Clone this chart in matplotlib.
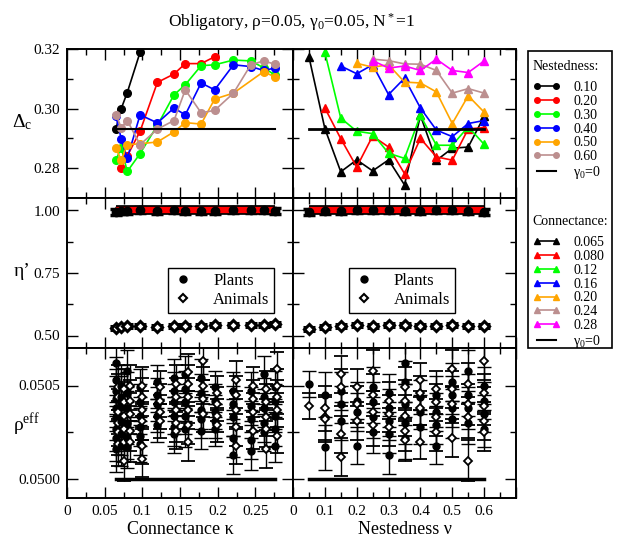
import matplotlib
matplotlib.use("Agg")
import matplotlib.pyplot as plt
from matplotlib.lines import Line2D
from matplotlib.patches import Rectangle
from matplotlib.ticker import MultipleLocator, FormatStrFormatter, FixedLocator, FixedFormatter

plt.rcParams["font.family"] = ["Liberation Serif", "DejaVu Serif"]
plt.rcParams["mathtext.fontset"] = "custom"
plt.rcParams["mathtext.rm"] = "Liberation Serif"
plt.rcParams["mathtext.it"] = "Liberation Serif:italic"

# ---- data ----
conn = [0.065, 0.072, 0.080, 0.097, 0.12, 0.142, 0.157, 0.178, 0.196, 0.221, 0.244, 0.261, 0.276]
nest = [0.05, 0.10, 0.15, 0.20, 0.25, 0.30, 0.35, 0.40, 0.45, 0.50, 0.55, 0.60]

nest_labels = ["0.10", "0.20", "0.30", "0.40", "0.50", "0.60"]
nest_colors = ["black", "#ff0000", "#00ff00", "#0000ff", "#ffa500", "#bc8f8f"]
conn_labels = ["0.065", "0.080", "0.12", "0.16", "0.20", "0.24", "0.28"]
conn_colors = ["black", "#ff0000", "#00ff00", "#0000ff", "#ffa500", "#bc8f8f", "#ff00ff"]

# Delta_c vs connectance, one series per nestedness (x values, y values)
dc_k_x = [
    [0.065, 0.072, 0.080, 0.097],
    [0.072, 0.080, 0.097, 0.12, 0.142, 0.157, 0.178, 0.196],
    conn,
    conn,
    [0.065, 0.072, 0.080, 0.097, 0.12, 0.142, 0.157, 0.178, 0.196, 0.221, 0.261, 0.276],
    conn,
]
dc_k_y = [
    [0.2932, 0.3000, 0.3054, 0.3189],
    [0.2802, 0.2841, 0.2924, 0.3088, 0.3116, 0.3151, 0.3151, 0.3174],
    [0.2828, 0.2869, 0.2789, 0.2849, 0.2944, 0.3046, 0.3080, 0.3144, 0.3147, 0.3163, 0.3160, 0.3137, 0.3113],
    [0.2974, 0.2899, 0.2833, 0.2979, 0.2952, 0.3002, 0.2979, 0.3086, 0.3063, 0.3147, 0.3141, 0.3128, 0.3136],
    [0.2867, 0.2827, 0.2879, 0.2882, 0.2888, 0.2922, 0.2953, 0.2948, 0.3032, 0.3052, 0.3124, 0.3106],
    [0.2980, 0.2936, 0.2960, 0.2879, 0.2931, 0.2960, 0.3063, 0.2986, 0.2994, 0.3052, 0.3147, 0.3160, 0.3149],
]
dc_k_zero = 0.2932

# Delta_c vs nestedness, one series per connectance
dc_n_x = [
    nest,
    nest[1:],
    nest[1:],
    nest[2:],
    nest[3:],
    nest[4:],
    nest[4:],
]
dc_n_y = [
    [0.3174, 0.2933, 0.2788, 0.2828, 0.2791, 0.2828, 0.2744, 0.2977, 0.2826, 0.2867, 0.2871, 0.2974],
    [0.3002, 0.2899, 0.2804, 0.2908, 0.2871, 0.2782, 0.2900, 0.2838, 0.2827, 0.2932, 0.2936],
    [0.3189, 0.2968, 0.2924, 0.2916, 0.2850, 0.2833, 0.2977, 0.2877, 0.2877, 0.2939, 0.2880],
    [0.3143, 0.3117, 0.3147, 0.3047, 0.3102, 0.3002, 0.2928, 0.2906, 0.2950, 0.2960],
    [0.3152, 0.3139, 0.3147, 0.3089, 0.3086, 0.3056, 0.2950, 0.3043, 0.2988],
    [0.3166, 0.3161, 0.3150, 0.3149, 0.3128, 0.3052, 0.3067, 0.3052],
    [0.3161, 0.3136, 0.3143, 0.3128, 0.3166, 0.3128, 0.3121, 0.3160],
]
dc_n_zero = 0.2933

# eta' (fraction of surviving species)
eta_pl_k = [0.995, 0.997, 0.999, 1.000, 0.998, 1.000, 0.999, 0.997, 0.998, 1.000, 1.000, 1.000, 0.999]
eta_an_k = [0.530, 0.535, 0.537, 0.537, 0.535, 0.540, 0.539, 0.540, 0.542, 0.542, 0.543, 0.542, 0.545]
eta_pl_n = [0.995, 0.996, 0.999, 1.003, 1.002, 1.000, 0.998, 0.999, 1.000, 1.000, 0.997, 0.995]
eta_an_n = [0.525, 0.535, 0.540, 0.542, 0.540, 0.543, 0.541, 0.540, 0.540, 0.541, 0.540, 0.539]

# rho_eff, several networks per column
rho_pl_k = [
    [0.05062, 0.05053, 0.05047, 0.05043, 0.05038, 0.05033, 0.05027, 0.05022, 0.05016],
    [0.05050, 0.05044, 0.05039, 0.05031, 0.05024, 0.05018],
    [0.05058, 0.05046, 0.05038, 0.05030, 0.05022, 0.05017],
    [0.05049, 0.05041, 0.05034, 0.05028, 0.05023, 0.05019],
    [0.05052, 0.05045, 0.05040, 0.05034, 0.05029],
    [0.05054, 0.05047, 0.05041, 0.05034, 0.05028, 0.05024],
    [0.05056, 0.05048, 0.05041, 0.05034, 0.05027],
    [0.05054, 0.05046, 0.05037, 0.05032, 0.05026],
    [0.05049, 0.05042, 0.05036, 0.05031, 0.05027],
    [0.05047, 0.05040, 0.05033, 0.05022, 0.05013],
    [0.05047, 0.05039, 0.05032, 0.05021, 0.05015],
    [0.05056, 0.05044, 0.05038, 0.05030, 0.05025],
    [0.05049, 0.05042, 0.05034, 0.05027, 0.05018],
]
rho_an_k = [
    [0.05049, 0.05044, 0.05036, 0.05030, 0.05025, 0.05019],
    [0.05048, 0.05041, 0.05034, 0.05027, 0.05020, 0.05010],
    [0.05050, 0.05042, 0.05035, 0.05026, 0.05020],
    [0.05050, 0.05044, 0.05037, 0.05031, 0.05018, 0.05011],
    [0.05049, 0.05042, 0.05036, 0.05031],
    [0.05051, 0.05044, 0.05037, 0.05030, 0.05026],
    [0.05057, 0.05051, 0.05044, 0.05037, 0.05029, 0.05020],
    [0.05063, 0.05050, 0.05043, 0.05035],
    [0.05046, 0.05040, 0.05034, 0.05029],
    [0.05053, 0.05045, 0.05037, 0.05028, 0.05018],
    [0.05050, 0.05043, 0.05036, 0.05026],
    [0.05048, 0.05041, 0.05033, 0.05027, 0.05016],
    [0.05059, 0.05050, 0.05044, 0.05037, 0.05023],
]
rho_err_k = [0.00012, 0.00011, 0.00011, 0.00010, 0.00009, 0.00010, 0.00010,
             0.00010, 0.00009, 0.00010, 0.00010, 0.00010, 0.00009]

rho_pl_n = [
    [0.05051],
    [0.05045, 0.05017],
    [0.05047, 0.05040, 0.05031],
    [0.05042, 0.05036, 0.05018],
    [0.05049, 0.05041, 0.05033, 0.05025],
    [0.05046, 0.05038, 0.05031, 0.05024, 0.05013],
    [0.05062, 0.05052, 0.05040, 0.05030, 0.05022],
    [0.05044, 0.05036, 0.05028],
    [0.05045, 0.05036, 0.05029, 0.05018],
    [0.05052, 0.05045, 0.05038, 0.05032],
    [0.05058, 0.05045, 0.05038, 0.05030],
    [0.05050, 0.05042, 0.05035, 0.05027],
]
rho_an_n = [
    [0.05039],
    [0.05038, 0.05033, 0.05032],
    [0.05056, 0.05049, 0.05024, 0.05012],
    [0.05049, 0.05040, 0.05031],
    [0.05058, 0.05045, 0.05036, 0.05029],
    [0.05042, 0.05035, 0.05028],
    [0.05049, 0.05042, 0.05034, 0.05026, 0.05021],
    [0.05053, 0.05046, 0.05038, 0.05020],
    [0.05048, 0.05041, 0.05033, 0.05025],
    [0.05059, 0.05048, 0.05040, 0.05022],
    [0.05051, 0.05040, 0.05033, 0.05010],
    [0.05063, 0.05046, 0.05039, 0.05031, 0.05025],
]
rho_err_n = [0.00007, 0.00012, 0.00010, 0.00010, 0.00011, 0.00010, 0.00011,
             0.00009, 0.00010, 0.00010, 0.00011, 0.00010]
rho_zero = 0.0500

# ---- figure ----
W, H = 620, 542
fig = plt.figure(figsize=(W / 100, H / 100), dpi=100)


def box(x0, y0, x1, y1):
    return [x0 / W, 1 - y1 / H, (x1 - x0) / W, (y1 - y0) / H]


axes = [[fig.add_axes(box(67, 49, 293, 198)), fig.add_axes(box(293, 49, 516, 198))],
        [fig.add_axes(box(67, 198, 293, 348)), fig.add_axes(box(293, 198, 516, 348))],
        [fig.add_axes(box(67, 348, 293, 498)), fig.add_axes(box(293, 348, 516, 498))]]

for row in axes:
    for ax in row:
        for s in ax.spines.values():
            s.set_linewidth(1.4)
        ax.tick_params(which="both", direction="in", top=True, right=True,
                       labelsize=11, width=1.0, pad=5)
        ax.tick_params(which="major", length=8)
        ax.tick_params(which="minor", length=4)

# top row
ax = axes[0][0]
for xs, ys, c in zip(dc_k_x, dc_k_y, nest_colors):
    ax.plot(xs, ys, "-o", color=c, lw=1.2, ms=5.5)
ax.plot([conn[0], conn[-1]], [dc_k_zero, dc_k_zero], color="black", lw=1.5)

ax = axes[0][1]
for xs, ys, c in zip(dc_n_x, dc_n_y, conn_colors):
    ax.plot(xs, ys, "-^", color=c, lw=1.2, ms=5.5)
ax.plot([nest[0], nest[-1]], [dc_n_zero, dc_n_zero], color="black", lw=2)

for ax in axes[0]:
    ax.set_ylim(0.27, 0.32)
    ax.yaxis.set_major_locator(MultipleLocator(0.02))
    ax.yaxis.set_minor_locator(MultipleLocator(0.01))
    ax.yaxis.set_major_formatter(FormatStrFormatter("%.2f"))

# middle row
for ax, xs, pl, an in [(axes[1][0], conn, eta_pl_k, eta_an_k), (axes[1][1], nest, eta_pl_n, eta_an_n)]:
    ax.errorbar(xs, pl, yerr=0.012, fmt="o", color="black", ms=6, capsize=4, elinewidth=2.5, capthick=2.5)
    ax.errorbar(xs, an, yerr=0.008, fmt="D", mfc="white", mec="black", mew=2.2, ms=5.5,
                ecolor="black", capsize=4, elinewidth=2.5, capthick=2.5)
    ax.plot([xs[0], xs[-1]], [1.0, 1.0], color="black", lw=7, solid_capstyle="butt")
    ax.plot([xs[0], xs[-1]], [1.0, 1.0], color="#ff0000", lw=4.5, solid_capstyle="butt")
    ax.set_ylim(0.45, 1.05)
    ax.yaxis.set_major_locator(MultipleLocator(0.25))
    ax.yaxis.set_minor_locator(MultipleLocator(0.125))
    ax.yaxis.set_major_formatter(FormatStrFormatter("%.2f"))

handles = [Line2D([], [], ls="none", marker="o", color="black", ms=5),
           Line2D([], [], ls="none", marker="D", mfc="white", mec="black", mew=1.5, ms=4.5)]
for ax, x0 in [(axes[1][0], 0.447), (axes[1][1], 0.251)]:
    leg = ax.legend(handles, ["Plants", "Animals"], loc="lower left", bbox_to_anchor=(x0, 0.233),
                    fontsize=12, fancybox=False, framealpha=1, edgecolor="black",
                    handlelength=1.2, handletextpad=1.2, labelspacing=0.2, borderpad=0.3,
                    borderaxespad=0)
    leg.get_frame().set_linewidth(1.0)

# bottom row
for ax, xs, pls, ans, errs, dx in [(axes[2][0], conn, rho_pl_k, rho_an_k, rho_err_k, 0.003),
                                   (axes[2][1], nest, rho_pl_n, rho_an_n, rho_err_n, 0.0)]:
    for x, pl, an, e in zip(xs, pls, ans, errs):
        ax.errorbar([x] * len(pl), pl, yerr=e, fmt="o", color="black", ms=5,
                    capsize=5, elinewidth=1.0, capthick=1.0)
        ax.errorbar([x + dx] * len(an), an, yerr=e,
                    fmt="D", mfc="white", mec="black", mew=1.3, ms=4, ecolor="black",
                    capsize=5, elinewidth=1.0, capthick=1.0)
    ax.plot([xs[0], xs[-1]], [rho_zero, rho_zero], color="black", lw=2.5)
    ax.set_ylim(0.0499, 0.0507)
    ax.yaxis.set_major_locator(MultipleLocator(0.0005))
    ax.yaxis.set_minor_locator(MultipleLocator(0.00025))
    ax.yaxis.set_major_formatter(FormatStrFormatter("%.4f"))

# x axes
for r in range(3):
    axl, axr = axes[r]
    axl.set_xlim(0, 0.3)
    axl.xaxis.set_major_locator(MultipleLocator(0.05))
    axl.xaxis.set_minor_locator(MultipleLocator(0.025))
    axr.set_xlim(0, 0.7)
    axr.xaxis.set_major_locator(MultipleLocator(0.1))
    axr.xaxis.set_minor_locator(MultipleLocator(0.05))
    axr.tick_params(labelleft=False)
    if r < 2:
        axl.tick_params(labelbottom=False)
        axr.tick_params(labelbottom=False)

axes[2][0].xaxis.set_major_locator(FixedLocator([0, 0.05, 0.1, 0.15, 0.2, 0.25, 0.3]))
axes[2][0].xaxis.set_major_formatter(FixedFormatter(["0", "0.05", "0.1", "0.15", "0.2", "0.25", ""]))
axes[2][1].xaxis.set_major_locator(FixedLocator([0, 0.1, 0.2, 0.3, 0.4, 0.5, 0.6, 0.7]))
axes[2][1].xaxis.set_major_formatter(FixedFormatter(["0", "0.1", "0.2", "0.3", "0.4", "0.5", "0.6", ""]))
axes[2][0].set_xlabel("Connectance κ", fontsize=13, labelpad=2)
axes[2][1].set_xlabel("Nestedness ν", fontsize=13, labelpad=2)

# y labels
fig.text(22 / W, 1 - 122 / H, r"Δ$_{\rm c}$", fontsize=14, ha="center", va="center")
fig.text(22 / W, 1 - 272 / H, "η’", fontsize=14, ha="center", va="center")
fig.text(27 / W, 1 - 425 / H, r"ρ$^{\rm eff}$", fontsize=14, ha="center", va="center")

fig.text(291 / W, 1 - 22 / H, r"Obligatory, ρ=0.05, γ$_{\rm 0}$=0.05, N$^{\rm *}$=1",
         fontsize=12.5, ha="center", va="center")

# side legend
fig.patches.append(Rectangle((528 / W, 1 - 348 / H), 84 / W, 297 / H, transform=fig.transFigure,
                             fill=False, edgecolor="black", lw=1.2))
nh = [Line2D([], [], color=c, marker="o", ms=4, lw=1.2) for c in nest_colors]
nh.append(Line2D([], [], color="black", lw=1.5))
ch = [Line2D([], [], color=c, marker="^", ms=4, lw=1.2) for c in conn_colors]
ch.append(Line2D([], [], color="black", lw=1.5))
zero_lab = r"γ$_{\rm 0}$=0"
for hs, labs, title, ytop in [(nh, nest_labels + [zero_lab], "Nestedness:", 57),
                              (ch, conn_labels + [zero_lab], "Connectance:", 212)]:
    lg = fig.legend(hs, labs, title=title, loc="upper left", bbox_to_anchor=(530 / W, 1 - ytop / H),
                    frameon=False, fontsize=10, title_fontsize=10, numpoints=2,
                    handlelength=2.0, handletextpad=0.9, labelspacing=0.06, borderpad=0.2,
                    borderaxespad=0)
    lg._legend_box.align = "left"
    lg._legend_box.sep = 6

fig.savefig("out.png", dpi=100)
